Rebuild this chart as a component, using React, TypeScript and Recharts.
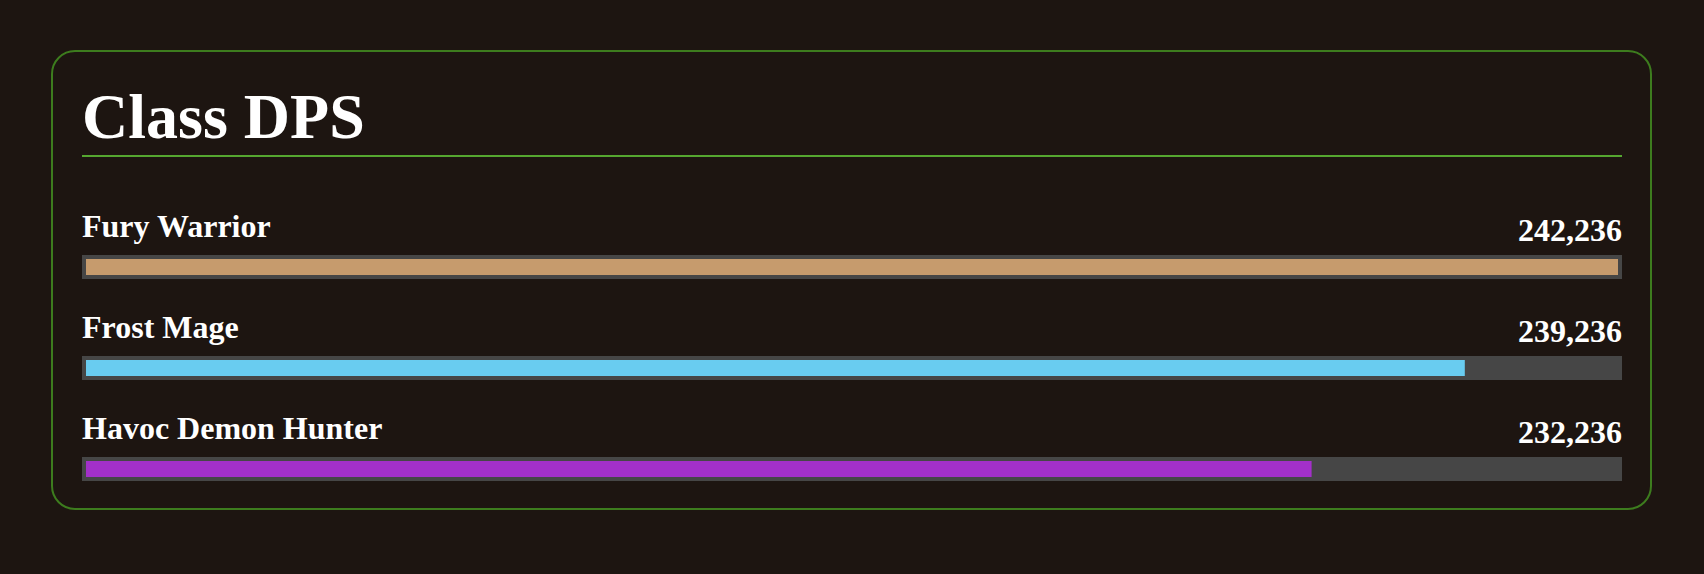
import React from 'react';
import { BarChart, Bar, XAxis, YAxis, LabelList, Cell } from 'recharts';

const classNames = ['Fury Warrior', 'Frost Mage', 'Havoc Demon Hunter'];
const dpsValues = [242236, 239236, 232236];
// share of the track each bar fills
const barPercent = [100, 90, 80];
const classColors = ['#C69B6D', '#69CCF0', '#A330C9'];

const data = classNames.map((name, i) => ({
  name,
  dps: dpsValues[i],
  pct: barPercent[i],
}));

const FONT = '"Liberation Serif", "Times New Roman", serif';
const CHART_W = 1540;
const CHART_H = 360;
const BG = '#1d1511';
const TRACK = '#464646';

const Track = (props: any) => {
  const { x, y, width, height } = props;
  return (
    <rect x={x - 4} y={Math.round(y) - 4} width={width + 8} height={height + 8} fill={TRACK} />
  );
};

const Fill = (props: any) => {
  const { x, y, width, height, fill } = props;
  return <rect x={x} y={Math.round(y)} width={width} height={height} fill={fill} />;
};

const NameLabel = (props: any) => {
  const vb = props.viewBox || props;
  const y = Math.round(vb.y);
  return (
    <text x={0} y={y - 22} fill="#ffffff" fontFamily={FONT} fontWeight="bold" fontSize={32} textAnchor="start">
      {props.value}
    </text>
  );
};

const ValueLabel = (props: any) => {
  const vb = props.viewBox || props;
  const y = Math.round(vb.y);
  return (
    <text x={CHART_W} y={y - 18} fill="#ffffff" fontFamily={FONT} fontWeight="bold" fontSize={32} textAnchor="end">
      {Number(props.value).toLocaleString('en-US')}
    </text>
  );
};

export default function App() {
  return (
    <div style={{ position: 'fixed', left: 0, top: 0, width: 1704, height: 574, background: BG, overflow: 'hidden' }}>
      <div
        style={{
          position: 'absolute',
          left: 51,
          top: 50,
          width: 1601,
          height: 460,
          boxSizing: 'border-box',
          border: '2px solid #3d7c1e',
          borderRadius: 24,
        }}
      />
      <div
        style={{
          position: 'absolute',
          left: 82,
          top: 85,
          fontFamily: FONT,
          fontWeight: 'bold',
          fontSize: 64,
          lineHeight: '64px',
          color: '#ffffff',
          whiteSpace: 'nowrap',
        }}
      >
        Class DPS
      </div>
      <div style={{ position: 'absolute', left: 82, top: 155, width: 1540, height: 2, background: '#55a630' }} />
      <div style={{ position: 'absolute', left: 82, top: 160 }}>
        <BarChart
          width={CHART_W}
          height={CHART_H}
          data={data}
          layout="vertical"
          margin={{ top: 55.5, right: 4, bottom: 1.5, left: 4 }}
        >
          <XAxis type="number" domain={[0, 100]} hide />
          <YAxis type="category" dataKey="name" hide />
          <Bar dataKey="pct" barSize={16} isAnimationActive={false} background={Track} shape={Fill}>
            {data.map((d, i) => (
              <Cell key={d.name} fill={classColors[i]} />
            ))}
            <LabelList dataKey="name" content={NameLabel} />
            <LabelList dataKey="dps" content={ValueLabel} />
          </Bar>
        </BarChart>
      </div>
    </div>
  );
}
